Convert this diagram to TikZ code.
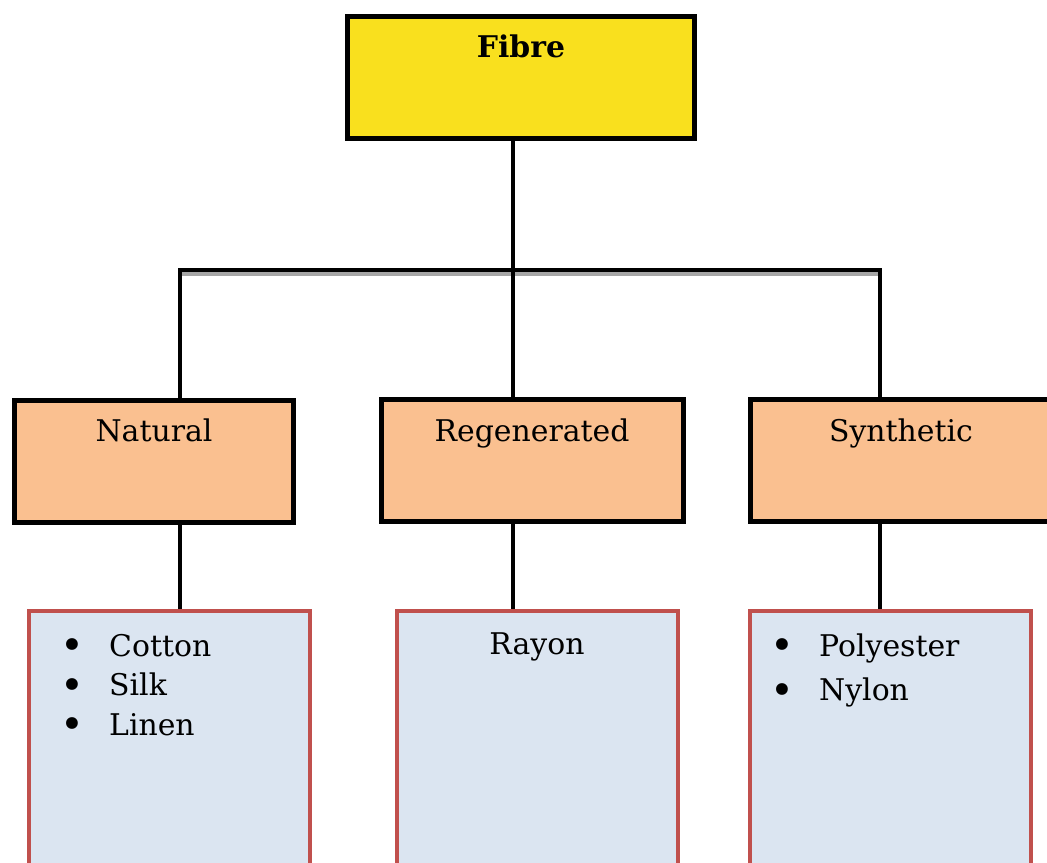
\documentclass[tikz,border=0pt]{standalone}
\usepackage{fontspec}
\setmainfont{DejaVu Serif}
\usetikzlibrary{positioning}

\definecolor{fibreyellow}{HTML}{F9E01E}
\definecolor{typeorange}{HTML}{FAC090}
\definecolor{listblue}{HTML}{DBE5F1}
\definecolor{listred}{HTML}{C0504D}

\newcommand{\listbullet}{\raisebox{-2pt}{\fontsize{23}{20}\selectfont\textbullet}}

\tikzstyle{fibrebox} = [
    rectangle,
    minimum width=6.94cm,
    minimum height=2.44cm,
    line width=3.2pt,
    fill=fibreyellow,
    draw=black
]
\tikzstyle{typebox} = [
    rectangle,
    minimum height=2.44cm,
    line width=3.2pt,
    fill=typeorange,
    draw=black
]
\tikzstyle{listbox} = [
    rectangle,
    minimum width=5.62cm,
    minimum height=5.8cm,
    line width=2.4pt,
    fill=listblue,
    draw=listred
]
\tikzstyle{boxtitle} = [inner sep=0pt, anchor=base, font=\fontsize{17}{20}\selectfont]
\tikzstyle{listtext} = [inner sep=0pt, anchor=base west, font=\fontsize{17}{20}\selectfont]
\tikzstyle{connector} = [line width=2.5pt]

\begin{document}
\begin{tikzpicture}[x=0.02cm, y=-0.02cm]
\useasboundingbox (0,0) rectangle (1047,862);
\clip (0,0) rectangle (1047,862);

% boxes
\node (fibre) [fibrebox] at (521,77.5) {};
\node (natural) [typebox, minimum width=5.58cm] at (154,461.5) {};
\node (regenerated) [typebox, minimum width=6.04cm] at (532.5,460.5) {};
\node (synthetic) [typebox, minimum width=6.14cm] at (904,460.5) {};
\node (naturallist) [listbox] at (169.5,756) {};
\node (regeneratedlist) [listbox] at (537.5,756) {};
\node (syntheticlist) [listbox] at (890.5,756) {};

% texts
\node (fibretitle) [boxtitle] at (521,57) {\textbf{Fibre}};
\node (naturaltitle) [boxtitle] at (154,441) {Natural};
\node (regeneratedtitle) [boxtitle] at (532,441) {Regenerated};
\node (synthetictitle) [boxtitle] at (901,441) {Synthetic};
\node (naturalitems) [listtext] at (60,656)
{\def\arraystretch{1.125}\begin{tabular}[t]{@{}l@{\hspace{0.5cm}}l@{}}
\listbullet & Cotton\\ \listbullet & Silk\\ \listbullet & Linen
\end{tabular}};
\node (rayon) [boxtitle] at (537,654) {Rayon};
\node (syntheticitems) [listtext] at (770,656)
{\def\arraystretch{1.28}\begin{tabular}[t]{@{}l@{\hspace{0.5cm}}l@{}}
\listbullet & Polyester\\ \listbullet & Nylon
\end{tabular}};

% connectors
\coordinate (busleft) at (180,270);
\coordinate (busmid) at (513,270);
\coordinate (busright) at (880,270);
\draw [connector, gray!70] ([yshift=-0.07cm]busleft) -- ([yshift=-0.07cm]busright);
\draw [connector] (busmid |- fibre.south) -- (busmid);
\draw [connector, line cap=rect] (busleft) -- (busright);
\draw [connector] (busleft) -- (busleft |- natural.north);
\draw [connector] (busmid) -- (busmid |- regenerated.north);
\draw [connector] (busright) -- (busright |- synthetic.north);
\draw [connector] (busleft |- natural.south) -- (busleft |- naturallist.north);
\draw [connector] (busmid |- regenerated.south) -- (busmid |- regeneratedlist.north);
\draw [connector] (busright |- synthetic.south) -- (busright |- syntheticlist.north);

\end{tikzpicture}
\end{document}
